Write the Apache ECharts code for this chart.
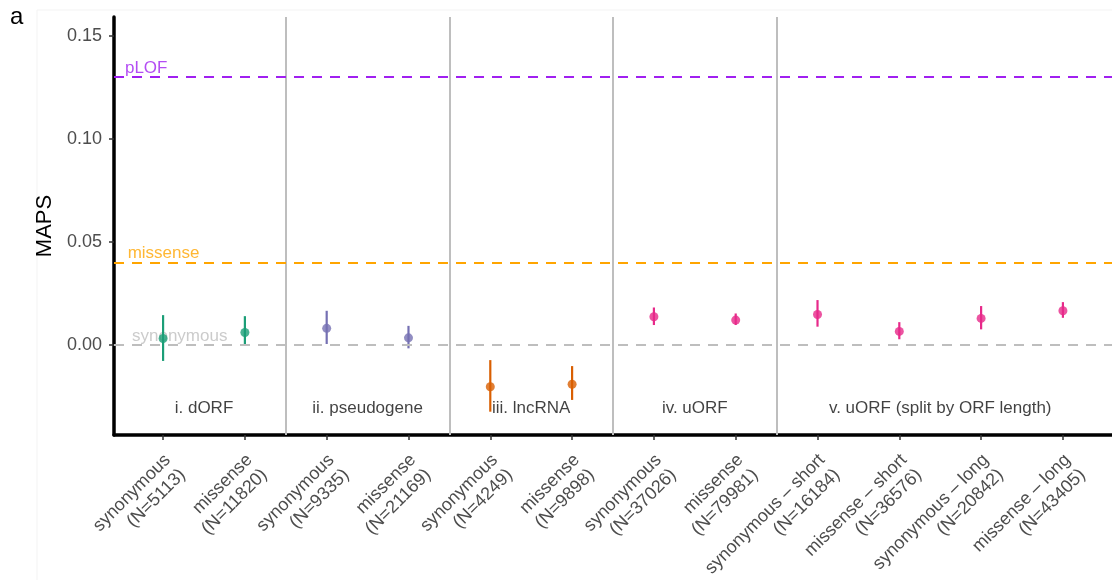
<!DOCTYPE html>
<html>
<head>
<meta charset="utf-8">
<script src="https://cdn.jsdelivr.net/npm/echarts@6/dist/echarts.min.js"></script>
<style>html,body{margin:0;padding:0;background:#fff}#chart{width:1112px;height:580px}</style>
</head>
<body>
<div id="chart"></div>
<script>
// ---- data ----
const categories = [
  'synonymous\n(N=5113)', 'missense\n(N=11820)',
  'synonymous\n(N=9335)', 'missense\n(N=21169)',
  'synonymous\n(N=4249)', 'missense\n(N=9898)',
  'synonymous\n(N=37026)', 'missense\n(N=79981)',
  'synonymous \u2013 short\n(N=16184)', 'missense \u2013 short\n(N=36576)',
  'synonymous \u2013 long\n(N=20842)', 'missense \u2013 long\n(N=43405)'
];
const groupNames = ['i. dORF', 'ii. pseudogene', 'iii. lncRNA', 'iv. uORF', 'v. uORF (split by ORF length)'];
const groupOf = [0, 0, 1, 1, 2, 2, 3, 3, 4, 4, 4, 4];
const groupColors = ['#1b9e77', '#7570b3', '#d95f02', '#e7298a', '#e7298a'];
const maps  = [0.0032, 0.0061, 0.0081, 0.0035, -0.0202, -0.0190, 0.0137, 0.0121, 0.0148, 0.0066, 0.0129, 0.0166];
const lower = [-0.0077, 0.0003, 0.0005, -0.0016, -0.0323, -0.0266, 0.0097, 0.0097, 0.0089, 0.0028, 0.0076, 0.0132];
const upper = [0.0145, 0.0140, 0.0166, 0.0093, -0.0073, -0.0102, 0.0182, 0.0153, 0.0218, 0.0111, 0.0189, 0.0208];
const refNames  = ['pLOF', 'missense', 'synonymous'];
const refValues = [0.13, 0.04, 0];
const refColors = ['#a020f0', '#ffa500', '#bebebe'];
const yTicks = [0, 0.05, 0.10, 0.15];

// ---- derived ----
const xIdx = categories.map((c, i) => i);
const groupCenters = groupNames.map((g, k) => {
  const idx = xIdx.filter(i => groupOf[i] === k);
  return idx.reduce((a, b) => a + b, 0) / idx.length;
});
const separators = [];
for (let i = 1; i < groupOf.length; i++) if (groupOf[i] !== groupOf[i - 1]) separators.push(i - 0.5);
const refLabelX = [-0.466, -0.433, -0.38];
const groupLabelY = -0.0305;
const refLabelOffset = 0.0043;
const FONT = 'Liberation Sans, Arial, sans-serif';

const chart = echarts.init(document.getElementById('chart'), null, {renderer: 'canvas'});
const option = {
  backgroundColor: '#ffffff',
  animation: false,
  grid: {left: 114, right: 0, top: 17, bottom: 145, containLabel: false, outerBoundsMode: 'none'},
  xAxis: {
    type: 'value', min: -0.6, max: 11.6,
    splitLine: {show: false},
    axisLine: {show: true, onZero: false, lineStyle: {color: '#000', width: 3.5}},
    axisTick: {show: true, customValues: xIdx, length: 5, lineStyle: {color: '#333', width: 1.5}},
    axisLabel: {
      customValues: xIdx, rotate: 45, align: 'right', verticalAlign: 'top', margin: 12,
      padding: [0, 4, 0, 0],
      fontSize: 18, lineHeight: 21, color: '#4d4d4d', fontFamily: FONT,
      formatter: v => categories[Math.round(v)]
    }
  },
  yAxis: {
    type: 'value', min: -0.0436, max: 0.159,
    name: 'MAPS', nameLocation: 'middle', nameGap: 55, nameRotate: 90,
    nameTextStyle: {fontSize: 22, color: '#000', fontFamily: FONT},
    splitLine: {show: false},
    axisLine: {show: true, onZero: false, lineStyle: {color: '#000', width: 3.5}},
    axisTick: {show: true, customValues: yTicks, length: 5, lineStyle: {color: '#333', width: 1.5}},
    axisLabel: {
      customValues: yTicks, margin: 12, fontSize: 18, color: '#4d4d4d', fontFamily: FONT,
      formatter: v => v.toFixed(2)
    }
  },
  graphic: [
    {type: 'rect', shape: {x: 37, y: 10, width: 1200, height: 700}, style: {fill: 'none', stroke: '#f3f3f3', lineWidth: 1}, z: -10},
    {type: 'text', x: 10, y: 17, style: {text: 'a', fontSize: 24, fill: '#000', verticalAlign: 'middle', fontFamily: FONT}},
    {type: 'text', x: 12, y: 590, style: {text: 'b', fontSize: 24, fill: '#000', verticalAlign: 'middle', fontFamily: FONT}}
  ],
  series: [
    {
      type: 'line', data: [], silent: true,
      markLine: {
        symbol: 'none', silent: true, label: {show: false}, animation: false,
        data: separators.map(s => ({xAxis: s, lineStyle: {color: '#bebebe', width: 2, type: 'solid'}}))
          .concat(refValues.map((v, k) => ({yAxis: v, lineStyle: {color: refColors[k], width: 2, type: [10, 8]}})))
      },
      z: 1
    },
    {
      type: 'scatter', symbolSize: 0, silent: true, z: 2,
      data: refNames.map((n, k) => ({value: [refLabelX[k], refValues[k] + refLabelOffset], name: n,
        label: {color: refColors[k]}})),
      label: {show: true, position: 'right', distance: 0, formatter: p => p.name, fontSize: 17, fontFamily: FONT}
    },
    {
      type: 'scatter', symbolSize: 0, silent: true, z: 2,
      data: groupNames.map((n, k) => ({value: [groupCenters[k], groupLabelY], name: n})),
      label: {show: true, position: 'inside', formatter: p => p.name, fontSize: 17, color: '#111', fontFamily: FONT}
    },
    {
      type: 'custom', z: 3, silent: true,
      data: xIdx.map(i => [i, lower[i], upper[i]]),
      encode: {x: 0, y: [1, 2]},
      renderItem: (params, api) => {
        const i = api.value(0);
        const a = api.coord([i, api.value(1)]);
        const b = api.coord([i, api.value(2)]);
        return {type: 'line', shape: {x1: a[0], y1: a[1], x2: b[0], y2: b[1]},
          style: {stroke: groupColors[groupOf[i]], lineWidth: 2.2}};
      }
    },
    {
      type: 'scatter', z: 4, symbolSize: 9, silent: true,
      data: xIdx.map(i => ({value: [i, maps[i]], itemStyle: {color: groupColors[groupOf[i]]}}))
    }
  ]
};
chart.setOption(option);
</script>
</body>
</html>
